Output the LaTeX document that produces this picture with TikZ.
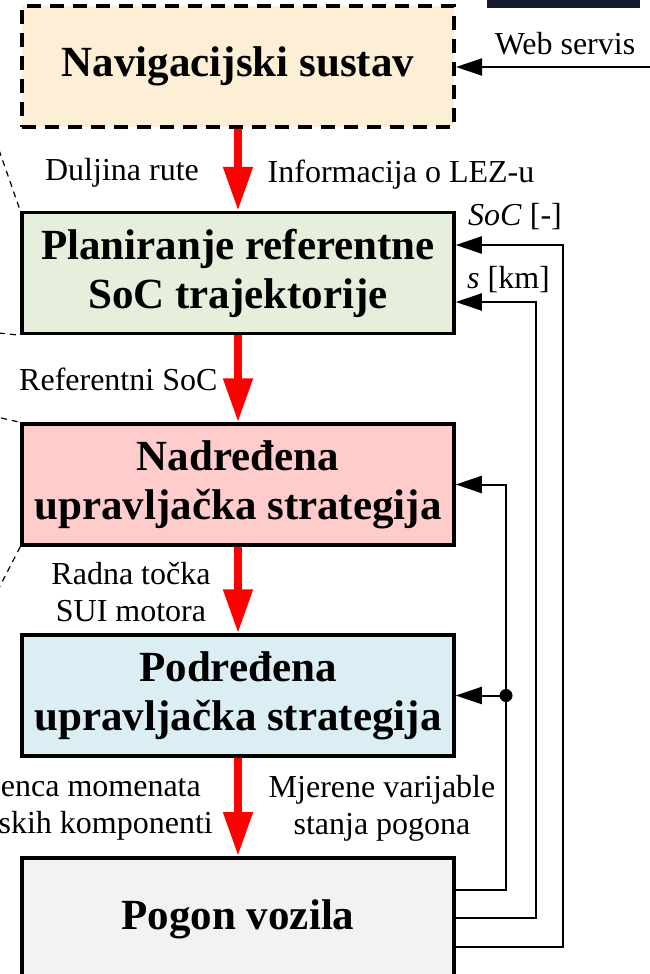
\documentclass[tikz,border=0pt]{standalone}
\usepackage{fontspec}
\setmainfont{Liberation Serif}
\usetikzlibrary{arrows.meta,calc}
\definecolor{navfill}{HTML}{FCEFD6}
\definecolor{planfill}{HTML}{E6EFDC}
\definecolor{nadrfill}{HTML}{FFCCCC}
\definecolor{podrfill}{HTML}{DAEEF3}
\definecolor{pogonfill}{HTML}{F2F2F2}
\definecolor{barfill}{HTML}{161A2C}
\newcommand{\bigtxt}{\fontsize{43}{49}\selectfont\bfseries}
\newcommand{\smalltxt}{\fontsize{32}{37}\selectfont}
\begin{document}
\begin{tikzpicture}[x=1pt,y=-1pt,
  box/.style={draw, line width=3.5pt, minimum width=432pt, minimum height=121pt,
    inner sep=0pt, align=center, font=\bigtxt},
  lbl/.style={font=\smalltxt, inner sep=0pt, align=center},
  redarr/.style={draw=red, line width=8pt, -{Triangle[length=44pt,width=28pt]}},
  fb/.style={line width=2pt, -{Triangle[length=26pt,width=17pt]}},
  leftdash/.style={line width=1.2pt, dash pattern=on 6pt off 5pt}]
\useasboundingbox (0,0) rectangle (650,974);
\clip (0,0) rectangle (650,974);
\fill[barfill] (487,0) rectangle (640,8);

\node[box, fill=navfill, line width=4pt, dash pattern=on 14pt off 9pt] (nav) at (238,66.5) {Navigacijski sustav};
\node[box, fill=planfill] (plan) at (238,273) {Planiranje referentne\\SoC trajektorije};
\node[box, fill=nadrfill] (nadr) at (238,484.5) {Nadređena\\upravljačka strategija};
\node[box, fill=podrfill] (podr) at (238,695.5) {Podređena\\upravljačka strategija};
\node[box, fill=pogonfill, minimum height=0pt, text height=72pt, text depth=60pt, anchor=north] (pogon) at (238,856) {Pogon vozila};

% red main arrows
\draw[redarr] (nav) -- (plan);
\draw[redarr] (plan) -- (nadr);
\draw[redarr] (nadr) -- (podr);
\draw[redarr] (podr) -- (pogon);

% web service input
\coordinate (web) at (655,67);
\draw[fb] (web) -- (web -| nav.east);

% feedback loops
\coordinate (c1) at (506,890);
\coordinate (c2) at (536,918);
\coordinate (c3) at (563,947);
\draw[fb] (c1 -| pogon.east) -- (c1) |- (nadr.east);
\draw[fb] (c2 -| pogon.east) -- (c2) |- ($(plan.east)+(0,29)$);
\draw[fb] (c3 -| pogon.east) -- (c3) |- ($(plan.east)+(0,-28)$);
\coordinate (dot) at (c1 |- podr.east);
\fill (dot) circle (6.5pt);
\draw[fb] (dot) -- (podr.east);

% labels
\node[lbl, anchor=base] (lweb) at (565,55) {Web servis};
\node[lbl, anchor=base] (ldul) at (122,180) {Duljina rute};
\node[lbl, anchor=base] (llez) at (401,182) {Informacija o LEZ-u};
\node[lbl, anchor=base west] (lsoc) at (468,225) {\textit{SoC} [-]};
\node[lbl, anchor=base west] (ls) at (467,288) {\textit{s} [km]};
\node[lbl, anchor=base west] (lref) at (19,390) {Referentni SoC};
\node[lbl] (lrad) at (131,592) {Radna točka\\SUI motora};
\node[lbl, anchor=base east] (lmom1) at (201,796) {enca momenata};
\node[lbl, anchor=base east] (lmom2) at (213,833) {skih komponenti};
\node[lbl] (lmje) at (382,808) {Mjerene varijable\\stanja pogona};

% dashed fragments on the left
\draw[leftdash] (-1,150) -- (plan.north west);
\draw[leftdash] (-1,333) -- (plan.south west);
\draw[leftdash] (1,418) -- (nadr.north west);
\draw[leftdash] (nadr.south west) -- (-1,588);
\end{tikzpicture}
\end{document}
